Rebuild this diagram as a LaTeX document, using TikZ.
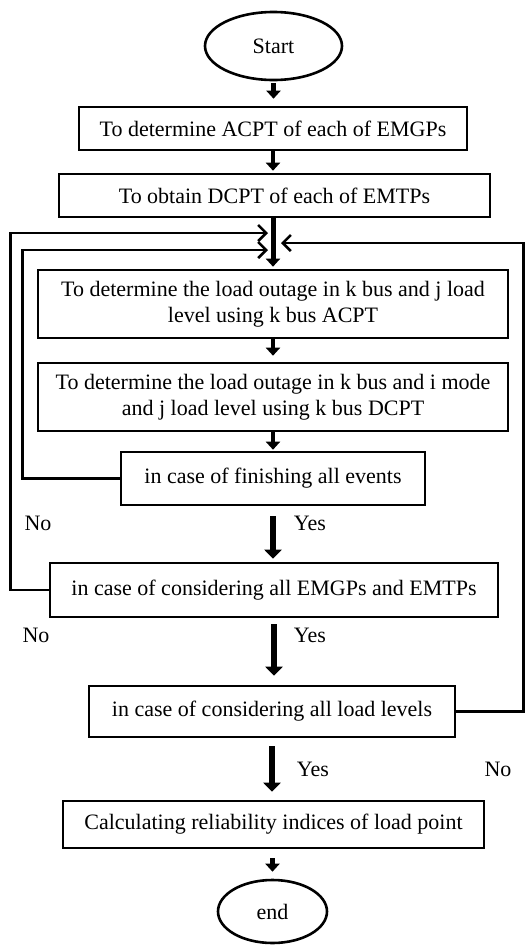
\documentclass[tikz,border=0pt]{standalone}
\usepackage{fontspec}
\setmainfont{Liberation Serif}
\usetikzlibrary{positioning,arrows.meta,shapes.geometric}

\begin{document}
\begin{tikzpicture}[x=1pt, y=-1pt,
  blk/.style={draw, line width=2.6pt, minimum width=#1, inner sep=2pt,
              align=center, font=\fontsize{22}{26}\selectfont},
  term/.style={ellipse, draw, line width=2.6pt, minimum width=#1,
               font=\fontsize{22}{26}\selectfont},
  lbl/.style={font=\fontsize{22}{26}\selectfont},
  ar/.style={line width=4.5pt, -{Triangle[width=14pt, length=8pt]}},
  bigar/.style={line width=6pt, -{Triangle[width=17pt, length=9pt]}},
  back/.style={line width=2.6pt, -{Straight Barb[length=8pt, width=16pt, line width=2.6pt]}},
]
\useasboundingbox (0,0) rectangle (527,945);

\node[term=137pt, minimum height=68pt] (start) at (273.5, 46) {Start};
\node[blk=388pt, minimum height=43pt] (acpt) at (273, 128.5) {To determine ACPT of each of EMGPs};
\node[blk=431pt, minimum height=43pt] (dcpt) at (274.5, 195.5) {To obtain DCPT of each of EMTPs};
\node[blk=470pt, minimum height=68pt] (lda) at (273, 304)
    {To determine the load outage in k bus and j load\\level using k bus ACPT};
\node[blk=470pt, minimum height=68pt] (ldd) at (273, 397)
    {To determine the load outage in k bus and i mode\\and j load level using k bus DCPT};
\node[blk=304pt, minimum height=53pt] (fin) at (273, 478.5) {in case of finishing all events};
\node[blk=448pt, minimum height=54pt] (emg) at (274, 590) {in case of considering all EMGPs and EMTPs};
\node[blk=366pt, minimum height=51pt] (lvl) at (272, 711.5) {in case of considering all load levels};
\node[blk=421pt, minimum height=47pt] (rel) at (273.5, 824.5) {Calculating reliability indices of load point};
\node[term=109pt, minimum height=63pt] (end) at (272.5, 911.5) {end};

% entry points of the loops
\coordinate (j1) at (268, 233);
\coordinate (j2) at (268, 250);
\coordinate (j3) at (281, 243);

% main flow
\draw[ar, shorten <=2pt, shorten >=7pt] (start.south) -- (start.south |- acpt.north);
\draw[ar, shorten >=2pt] (acpt.south) -- (acpt.south |- dcpt.north);
\draw[ar, line width=5pt, shorten >=2pt] (lda.north |- dcpt.south) -- (lda.north);
\draw[ar, shorten >=6pt] (lda.south) -- (lda.south |- ldd.north);
\draw[ar, shorten >=1pt] (ldd.south) -- (ldd.south |- fin.north);
\draw[bigar, shorten <=10pt, shorten >=3pt] (fin.south) -- (fin.south |- emg.north);
\draw[bigar, shorten <=6pt, shorten >=9pt] (emg.south) -- (emg.south |- lvl.north);
\draw[bigar, shorten <=8pt, shorten >=8pt] (lvl.south) -- (lvl.south |- rel.north);
\draw[ar, shorten <=9pt, shorten >=7pt] (end.north |- rel.south) -- (end.north);

% loops back
\draw[back] (fin.west) -- ++(-97,0) |- (j2);
\draw[back] (emg.west) -- ++(-38,0) |- (j1);
\draw[back] (lvl.east) -- ++(67,0) |- (j3);

\node[lbl] (no1)  at (38, 523)  {No};
\node[lbl] (yes1) at (310, 523) {Yes};
\node[lbl] (no2)  at (36, 635)  {No};
\node[lbl] (yes2) at (310, 635) {Yes};
\node[lbl] (yes3) at (313, 769) {Yes};
\node[lbl] (no3)  at (498, 769) {No};
\end{tikzpicture}
\end{document}
